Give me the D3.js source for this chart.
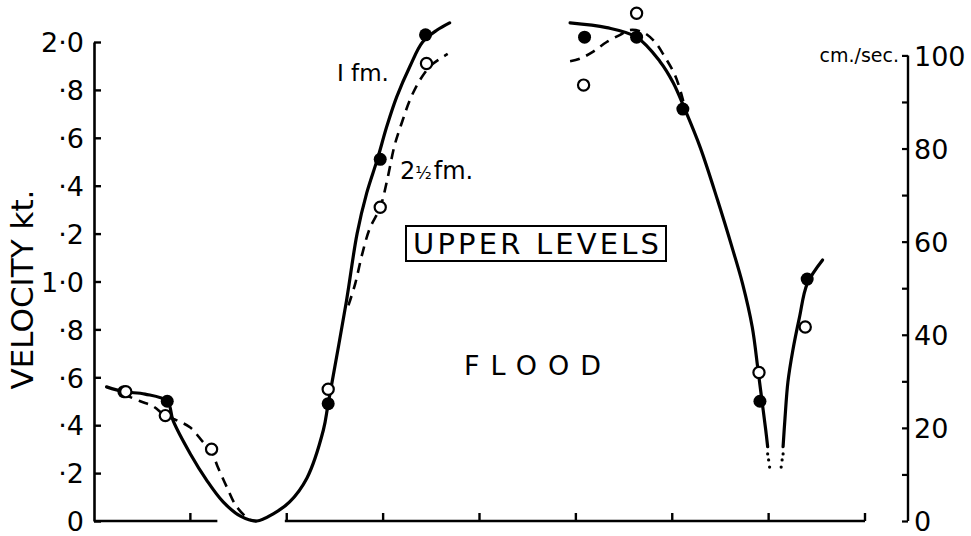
<!DOCTYPE html>
<html>
<head>
<meta charset="utf-8">
<script src="https://cdn.jsdelivr.net/npm/d3@7"></script>
<style>
  html, body { margin: 0; padding: 0; background: #fff; }
  svg { display: block; }
  text { font-family: "DejaVu Sans", sans-serif; fill: #000; }
</style>
</head>
<body>
<svg id="chart" width="971" height="536"></svg>
<script>
// Tidal stream velocity, upper levels, flood — 1 fm. (solid) and 2½ fm. (dashed)

// Hour ticks along the time axis (unlabelled)
const hourTicks = [0, 1, 2, 3, 4, 5, 6, 7, 8];

// Left axis: knots
const knotTicks = [0, 0.2, 0.4, 0.6, 0.8, 1.0, 1.2, 1.4, 1.6, 1.8, 2.0];
const knotLabels = ["0", "·2", "·4", "·6", "·8", "1·0", "·2", "·4", "·6", "·8", "2·0"];

// Right axis: cm./sec.
const cmTicks = [0, 10, 20, 30, 40, 50, 60, 70, 80, 90, 100];
const cmLabelled = [0, 20, 40, 60, 80, 100];
const cmPerKnot = 51.44;

// Observations at 1 fm. (filled circles)
const obs1Hour = [0.31, 0.76, 2.43, 2.97, 3.44, 5.09, 5.63, 6.11, 6.91, 7.40];
const obs1Knot = [0.54, 0.50, 0.49, 1.51, 2.03, 2.02, 2.02, 1.72, 0.50, 1.01];

// Observations at 2½ fm. (open circles)
const obs2Hour = [0.33, 0.74, 1.22, 2.43, 2.97, 3.45, 5.08, 5.63, 6.90, 7.38];
const obs2Knot = [0.54, 0.44, 0.30, 0.55, 1.31, 1.91, 1.82, 2.12, 0.62, 0.81];

// Fitted curve, 1 fm. — first flood
const curve1aHour = [0.13, 0.31, 0.53, 0.76, 0.82, 1.00, 1.17, 1.34, 1.52, 1.69, 1.86, 2.03, 2.21, 2.38, 2.43, 2.62, 2.73, 2.83, 2.94, 3.04, 3.14, 3.28, 3.41, 3.56, 3.69];
const curve1aKnot = [0.56, 0.54, 0.53, 0.50, 0.42, 0.28, 0.17, 0.08, 0.02, 0.00, 0.03, 0.08, 0.18, 0.38, 0.49, 0.92, 1.20, 1.37, 1.51, 1.65, 1.77, 1.90, 2.00, 2.05, 2.08];

// Fitted curve, 1 fm. — falling limb
const curve1bHour = [4.94, 5.32, 5.63, 5.87, 6.01, 6.13, 6.29, 6.47, 6.63, 6.73, 6.83, 6.89, 6.93, 6.97, 6.99];
const curve1bKnot = [2.08, 2.06, 2.02, 1.92, 1.83, 1.72, 1.56, 1.34, 1.13, 0.99, 0.81, 0.63, 0.505, 0.38, 0.31];

// Fitted curve, 1 fm. — rising again after the turn
const curve1cHour = [7.15, 7.17, 7.20, 7.25, 7.32, 7.40, 7.56];
const curve1cKnot = [0.31, 0.43, 0.58, 0.71, 0.85, 0.99, 1.09];

// Dotted continuation towards slack
const dotsHour = [6.99, 7.00, 7.01, 7.15, 7.14, 7.13];
const dotsKnot = [0.28, 0.255, 0.225, 0.28, 0.255, 0.225];

// Fitted curve, 2½ fm. — early ebb-off
const curve2aHour = [0.30, 0.48, 0.61, 0.74, 0.86, 1.00, 1.13, 1.22, 1.28, 1.38, 1.48, 1.62, 1.69];
const curve2aKnot = [0.53, 0.50, 0.48, 0.44, 0.42, 0.39, 0.33, 0.29, 0.23, 0.14, 0.06, 0.005, 0.00];

// Fitted curve, 2½ fm. — rising limb
const curve2bHour = [2.64, 2.71, 2.78, 2.86, 2.97, 3.04, 3.12, 3.20, 3.28, 3.38, 3.49, 3.59, 3.67];
const curve2bKnot = [0.90, 0.99, 1.11, 1.22, 1.31, 1.42, 1.57, 1.67, 1.76, 1.84, 1.90, 1.93, 1.95];

// Fitted curve, 2½ fm. — around the second maximum
const curve2cHour = [4.94, 5.04, 5.18, 5.32, 5.46, 5.56, 5.70, 5.82, 5.92, 6.03, 6.11, 6.14];
const curve2cKnot = [1.92, 1.93, 1.96, 2.00, 2.03, 2.05, 2.04, 2.00, 1.94, 1.86, 1.76, 1.70];

const svg = d3.select("#chart");

const x = d3.scaleLinear().domain([0, 8]).range([94, 865]);
const y = d3.scaleLinear().domain([0, 2]).range([521, 42]);
const yCm = d3.scaleLinear().domain([0, 2 * cmPerKnot]).range([521, 42]);

const ink = "#000";

// ----- Left axis (knots) -----
const leftAxis = d3.axisLeft(y)
  .tickValues(knotTicks)
  .tickSizeInner(-7)
  .tickSizeOuter(0)
  .tickPadding(10)
  .tickFormat((d, i) => knotLabels[i]);

const gLeft = svg.append("g").attr("transform", `translate(${x(0)},0)`).call(leftAxis);
gLeft.select(".domain").attr("stroke", ink).attr("stroke-width", 2.6);
gLeft.selectAll(".tick line").attr("stroke", ink).attr("stroke-width", 2.4);
gLeft.selectAll(".tick text")
  .attr("font-size", 27)
  .attr("font-family", "DejaVu Sans")
  .attr("dy", "0.36em");

// ----- Right axis (cm./sec.) -----
const rightAxis = d3.axisRight(yCm)
  .tickValues(cmTicks)
  .tickSizeInner(-6)
  .tickSizeOuter(0)
  .tickPadding(6)
  .tickFormat(d => cmLabelled.includes(d) ? String(d) : "");

const rightX = 908;
const gRight = svg.append("g").attr("transform", `translate(${rightX},0)`).call(rightAxis);
gRight.select(".domain").attr("stroke", ink).attr("stroke-width", 2.4)
  .attr("d", `M0,${yCm(100)}V${yCm(0)}`);
gRight.selectAll(".tick line").attr("stroke", ink).attr("stroke-width", 2.2);
gRight.selectAll(".tick text")
  .attr("font-size", 27)
  .attr("font-family", "DejaVu Sans")
  .attr("dy", "0.36em");

svg.append("text")
  .attr("x", rightX - 9)
  .attr("y", yCm(100) + 7)
  .attr("text-anchor", "end")
  .attr("font-size", 19)
  .text("cm./sec.");

// ----- Bottom (time) axis, broken where the curve reaches slack -----
const baseY = y(0);
const baseSegments = [[0, 1.28], [1.98, 8]];
svg.append("g").selectAll("line.base")
  .data(baseSegments)
  .join("line")
  .attr("x1", d => x(d[0]))
  .attr("x2", d => x(d[1]))
  .attr("y1", baseY)
  .attr("y2", baseY)
  .attr("stroke", ink)
  .attr("stroke-width", 2.6);

svg.append("g").selectAll("line.htick")
  .data(hourTicks.slice(1))
  .join("line")
  .attr("x1", d => x(d))
  .attr("x2", d => x(d))
  .attr("y1", baseY)
  .attr("y2", baseY - 8)
  .attr("stroke", ink)
  .attr("stroke-width", 2.4);

// ----- Axis title -----
svg.append("text")
  .attr("transform", `translate(33,${(y(0) + y(2)) / 2 + 8}) rotate(-90)`)
  .attr("text-anchor", "middle")
  .attr("font-size", 31)
  .text("VELOCITY  kt.");

// ----- Curves -----
const line = d3.line()
  .x(d => x(d[0]))
  .y(d => y(d[1]))
  .curve(d3.curveCatmullRom.alpha(0.5));

const zip = (a, b) => a.map((v, i) => [v, b[i]]);

const solidCurves = [
  zip(curve1aHour, curve1aKnot),
  zip(curve1bHour, curve1bKnot),
  zip(curve1cHour, curve1cKnot)
];
const dashedCurves = [
  zip(curve2aHour, curve2aKnot),
  zip(curve2bHour, curve2bKnot),
  zip(curve2cHour, curve2cKnot)
];

svg.append("g").selectAll("path")
  .data(dashedCurves)
  .join("path")
  .attr("d", line)
  .attr("fill", "none")
  .attr("stroke", ink)
  .attr("stroke-width", 2.6)
  .attr("stroke-dasharray", "10,7");

svg.append("g").selectAll("path")
  .data(solidCurves)
  .join("path")
  .attr("d", line)
  .attr("fill", "none")
  .attr("stroke", ink)
  .attr("stroke-width", 3.2)
  .attr("stroke-linecap", "round");

svg.append("g").selectAll("circle")
  .data(zip(dotsHour, dotsKnot))
  .join("circle")
  .attr("cx", d => x(d[0]))
  .attr("cy", d => y(d[1]))
  .attr("r", 1.6)
  .attr("fill", ink);

// ----- Observations -----
svg.append("g").selectAll("circle")
  .data(zip(obs1Hour, obs1Knot))
  .join("circle")
  .attr("cx", d => x(d[0]))
  .attr("cy", d => y(d[1]))
  .attr("r", 6.5)
  .attr("fill", ink);

svg.append("g").selectAll("circle")
  .data(zip(obs2Hour, obs2Knot))
  .join("circle")
  .attr("cx", d => x(d[0]))
  .attr("cy", d => y(d[1]))
  .attr("r", 5.6)
  .attr("fill", "#fff")
  .attr("stroke", ink)
  .attr("stroke-width", 2.2);

// ----- Annotations -----
svg.append("text")
  .attr("x", 337)
  .attr("y", 81)
  .attr("font-size", 23)
  .text("I fm.");

const frac = svg.append("text")
  .attr("x", 400)
  .attr("y", 179)
  .attr("font-size", 24);
frac.append("tspan").text("2");
frac.append("tspan").attr("font-size", 17).text("½");
frac.append("tspan").attr("dx", 2).text("fm.");

svg.append("rect")
  .attr("x", 406)
  .attr("y", 226)
  .attr("width", 260)
  .attr("height", 35)
  .attr("fill", "none")
  .attr("stroke", ink)
  .attr("stroke-width", 2);

svg.append("text")
  .attr("x", 536)
  .attr("y", 254)
  .attr("text-anchor", "middle")
  .attr("font-size", 29)
  .attr("textLength", 246)
  .text("UPPER  LEVELS");

svg.append("text")
  .attr("x", 538)
  .attr("y", 375)
  .attr("text-anchor", "middle")
  .attr("font-size", 27)
  .attr("letter-spacing", 11)
  .text("FLOOD");
</script>
</body>
</html>
